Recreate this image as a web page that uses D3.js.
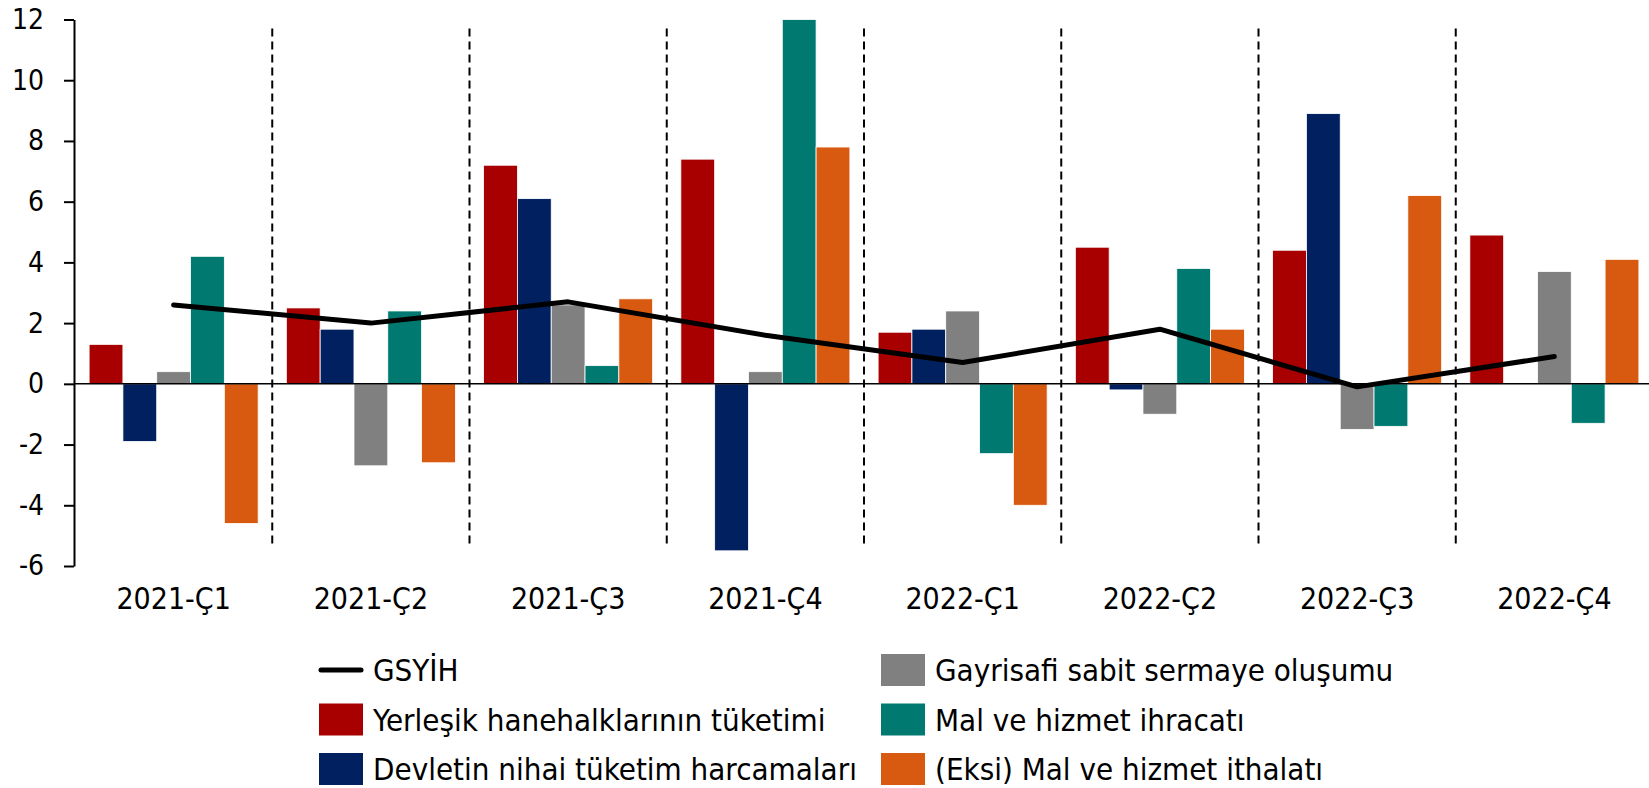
<!DOCTYPE html>
<html>
<head>
    <meta charset="utf-8">
    <title>GSYİH ve harcama bileşenleri</title>
    <script src="https://d3js.org/d3.v7.min.js"></script>
    <style>
        body { margin: 0; background: #fff; }
        svg text { font-family: "DejaVu Sans Condensed", "DejaVu Sans", sans-serif; font-stretch: condensed; fill: #000; }
        .tick-label { font-size: 28px; }
        .cat-label { font-size: 30px; }
        .legend-label { font-size: 31px; }
    </style>
</head>
<body>
    <svg width="1649" height="788"></svg>
    <script>
        // veri
        var categories = ["2021-Ç1", "2021-Ç2", "2021-Ç3", "2021-Ç4", "2022-Ç1", "2022-Ç2", "2022-Ç3", "2022-Ç4"];
        var gsyih      = [2.6, 2.0, 2.7, 1.6, 0.7, 1.8, -0.1, 0.9];
        var hanehalki  = [1.3, 2.5, 7.2, 7.4, 1.7, 4.5, 4.4, 4.9];
        var devlet     = [-1.9, 1.8, 6.1, -5.5, 1.8, -0.2, 8.9, 0];
        var yatirim    = [0.4, -2.7, 2.6, 0.4, 2.4, -1.0, -1.5, 3.7];
        var ihracat    = [4.2, 2.4, 0.6, 12.0, -2.3, 3.8, -1.4, -1.3];
        var ithalat    = [-4.6, -2.6, 2.8, 7.8, -4.0, 1.8, 6.2, 4.1];
        var yTicks     = [-6, -4, -2, 0, 2, 4, 6, 8, 10, 12];

        var series = [
            {name: "Yerleşik hanehalklarının tüketimi", values: hanehalki, color: "#a80000"},
            {name: "Devletin nihai tüketim harcamaları", values: devlet, color: "#002060"},
            {name: "Gayrisafi sabit sermaye oluşumu", values: yatirim, color: "#808080"},
            {name: "Mal ve hizmet ihracatı", values: ihracat, color: "#007a70"},
            {name: "(Eksi) Mal ve hizmet ithalatı", values: ithalat, color: "#d85a10"}
        ];

        var svg = d3.select("svg");
        var axisX = 74;

        var x0 = d3.scaleBand().domain(categories).range([75, 1653])
            .paddingInner(0.143).paddingOuter(0.0715);
        var x1 = d3.scaleBand().domain(series.map(function(s) { return s.name; }))
            .range([0, x0.bandwidth()]);
        var y = d3.scaleLinear().domain([-6, 12]).range([566, 19.5]);

        // kesikli ayraçlar
        var gap = x0.step() - x0.bandwidth();
        svg.append("g").selectAll("line")
            .data(categories.slice(0, -1))
            .enter().append("line")
            .attr("x1", function(d) { return x0(d) + x0.bandwidth() + gap / 2; })
            .attr("x2", function(d) { return x0(d) + x0.bandwidth() + gap / 2; })
            .attr("y1", y(11.7))
            .attr("y2", y(-5.3))
            .attr("stroke", "#000")
            .attr("stroke-width", 2)
            .attr("stroke-dasharray", "8,5");

        // çubuklar
        var groups = svg.append("g").selectAll("g")
            .data(series)
            .enter().append("g")
            .attr("fill", function(s) { return s.color; });

        groups.selectAll("rect")
            .data(function(s) { return s.values.map(function(v, i) { return {name: s.name, v: v, c: categories[i]}; }); })
            .enter().append("rect")
            .attr("x", function(d) { return x0(d.c) + x1(d.name); })
            .attr("width", x1.bandwidth())
            .attr("y", function(d) { return y(Math.max(0, d.v)); })
            .attr("height", function(d) { return Math.abs(y(d.v) - y(0)); })
            .attr("stroke", "#fff")
            .attr("stroke-width", 0.8);

        // sıfır çizgisi
        svg.append("line")
            .attr("x1", axisX).attr("x2", 1649)
            .attr("y1", y(0)).attr("y2", y(0))
            .attr("stroke", "#000").attr("stroke-width", 1.5);

        // GSYİH çizgisi
        var line = d3.line()
            .x(function(d, i) { return x0(categories[i]) + x0.bandwidth() / 2; })
            .y(function(d) { return y(d); });

        svg.append("path")
            .datum(gsyih)
            .attr("d", line)
            .attr("fill", "none")
            .attr("stroke", "#000")
            .attr("stroke-width", 5)
            .attr("stroke-linecap", "round")
            .attr("stroke-linejoin", "round");

        // y ekseni
        var yAxis = svg.append("g")
            .attr("transform", "translate(" + axisX + ",0)")
            .call(d3.axisLeft(y).tickValues(yTicks).tickSize(10).tickPadding(20).tickSizeOuter(0)
                .tickFormat(function(d) { return String(d); }));
        yAxis.select(".domain").attr("stroke-width", 2);
        yAxis.selectAll(".tick line").attr("stroke-width", 2);
        yAxis.selectAll(".tick text").attr("class", "tick-label").attr("font-size", null).attr("font-family", null);

        // kategori etiketleri
        svg.append("g").selectAll("text")
            .data(categories)
            .enter().append("text")
            .attr("class", "cat-label")
            .attr("x", function(d) { return x0(d) + x0.bandwidth() / 2; })
            .attr("y", 609)
            .attr("text-anchor", "middle")
            .text(function(d) { return d; });

        // lejant
        var legendItems = [
            {name: "GSYİH", type: "line", color: "#000", col: 0, row: 0},
            {name: series[0].name, type: "rect", color: series[0].color, col: 0, row: 1},
            {name: series[1].name, type: "rect", color: series[1].color, col: 0, row: 2},
            {name: series[2].name, type: "rect", color: series[2].color, col: 1, row: 0},
            {name: series[3].name, type: "rect", color: series[3].color, col: 1, row: 1},
            {name: series[4].name, type: "rect", color: series[4].color, col: 1, row: 2}
        ];
        var colX = [319, 881];

        var leg = svg.append("g").selectAll("g")
            .data(legendItems)
            .enter().append("g")
            .attr("transform", function(d) { return "translate(" + colX[d.col] + "," + (670 + d.row * 49.5) + ")"; });

        leg.filter(function(d) { return d.type === "rect"; })
            .append("rect")
            .attr("x", 0).attr("y", -16)
            .attr("width", 44).attr("height", 32)
            .attr("fill", function(d) { return d.color; });

        leg.filter(function(d) { return d.type === "line"; })
            .append("line")
            .attr("x1", 2).attr("x2", 42)
            .attr("stroke", "#000").attr("stroke-width", 5)
            .attr("stroke-linecap", "round");

        leg.append("text")
            .attr("class", "legend-label")
            .attr("x", 54)
            .attr("dy", "0.36em")
            .text(function(d) { return d.name; });
    </script>
</body>
</html>
